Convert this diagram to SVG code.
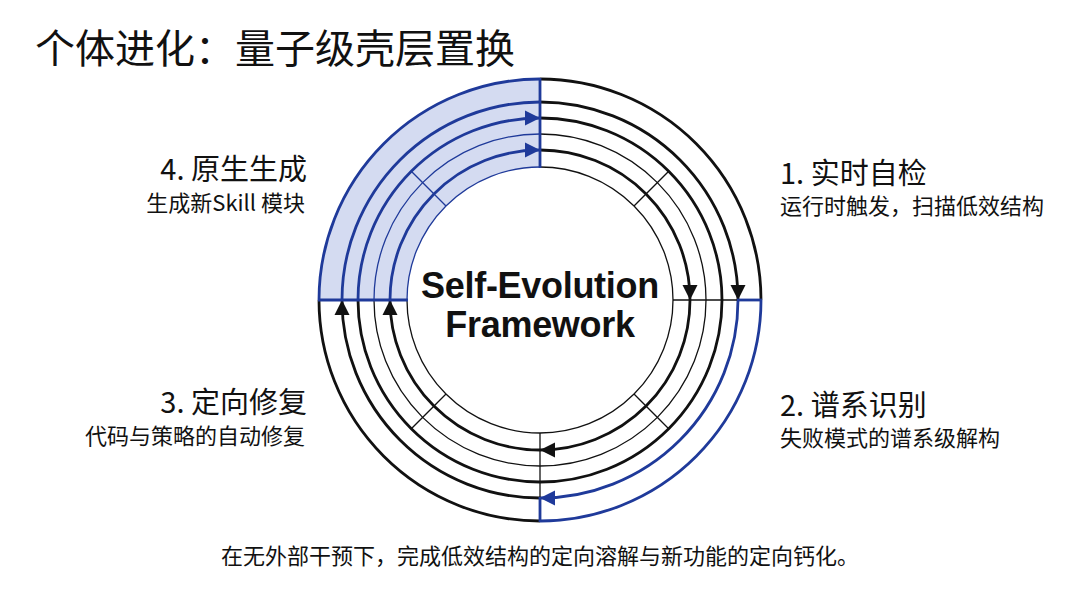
<svg xmlns="http://www.w3.org/2000/svg" width="1080" height="602" viewBox="0 0 1080 602">
<style>
.arc{fill:none}
.t{stroke-width:2.8}
.n{stroke-width:1.3}
.k{stroke:#111}
.b{stroke:#1f3a9a}
.cjk{font-family:"Noto Sans CJK SC","Noto Sans",sans-serif;fill:#111}
.h{font-size:29px}
.s{font-size:22px}
.ctr{font-family:"Liberation Sans",Arial,sans-serif;font-weight:bold;font-size:36px;fill:#111;letter-spacing:-0.3px}
</style>
<defs>
<marker id="ak" markerUnits="userSpaceOnUse" markerWidth="16" markerHeight="16" refX="15" refY="8" orient="auto"><path d="M0,0.5 L15,8 L0,15.5 z" fill="#111"/></marker>
<marker id="ab" markerUnits="userSpaceOnUse" markerWidth="16" markerHeight="16" refX="15" refY="8" orient="auto"><path d="M0,0.5 L15,8 L0,15.5 z" fill="#1f3a9a"/></marker>
</defs>
<rect width="1080" height="602" fill="#fff"/>
<text class="cjk" x="35" y="63" font-size="40">个体进化：量子级壳层置换</text>

<g id="framework">
<path d="M319,300 A221,221 0 0 1 540,79 L540,167 A133,133 0 0 0 407,300 Z" fill="#d4dbf1"/>
<g id="connectors">
<!-- top-left (blue) -->
<path class="arc t b" d="M319,300 A221,221 0 0 1 540,79"/>
<path class="arc t b" d="M342,300 A198,198 0 0 1 540,102"/>
<path class="arc t b" d="M358,300 A182,182 0 0 1 540,118" marker-end="url(#ab)"/>
<path class="arc n b" d="M374,300 A166,166 0 0 1 540,134"/>
<path class="arc t b" d="M390,300 A150,150 0 0 1 540,150" marker-end="url(#ab)"/>
<path class="arc n b" d="M407,300 A133,133 0 0 1 540,167"/>
<!-- top-right -->
<path class="arc t k" d="M540,79 A221,221 0 0 1 761,300"/>
<path class="arc t k" d="M540,102 A198,198 0 0 1 738,300" marker-end="url(#ak)"/>
<path class="arc t k" d="M540,118 A182,182 0 0 1 722,300"/>
<path class="arc n k" d="M540,134 A166,166 0 0 1 706,300"/>
<path class="arc t k" d="M540,150 A150,150 0 0 1 690,300" marker-end="url(#ak)"/>
<path class="arc n k" d="M540,167 A133,133 0 0 1 673,300"/>
<!-- bottom-right -->
<path class="arc t b" d="M761,300 A221,221 0 0 1 540,521"/>
<path class="arc t b" d="M738,300 A198,198 0 0 1 540,498" marker-end="url(#ab)"/>
<path class="arc t k" d="M722,300 A182,182 0 0 1 540,482"/>
<path class="arc n k" d="M706,300 A166,166 0 0 1 540,466"/>
<path class="arc t k" d="M690,300 A150,150 0 0 1 540,450" marker-end="url(#ak)"/>
<path class="arc n k" d="M673,300 A133,133 0 0 1 540,433"/>
<!-- bottom-left -->
<path class="arc t k" d="M540,521 A221,221 0 0 1 319,300"/>
<path class="arc t k" d="M540,498 A198,198 0 0 1 342,300" marker-end="url(#ak)"/>
<path class="arc t k" d="M540,482 A182,182 0 0 1 358,300"/>
<path class="arc n k" d="M540,466 A166,166 0 0 1 374,300"/>
<path class="arc t k" d="M540,450 A150,150 0 0 1 390,300" marker-end="url(#ak)"/>
<path class="arc n k" d="M540,433 A133,133 0 0 1 407,300"/>
<!-- dividers -->
<line class="t b" x1="540" y1="78" x2="540" y2="168"/>
<line class="t b" x1="318" y1="300" x2="408" y2="300"/>
<line class="n k" x1="673" y1="300" x2="738" y2="300"/>
<line class="t b" x1="737" y1="300" x2="762" y2="300"/>
<line class="n k" x1="540" y1="433" x2="540" y2="498"/>
<line class="t b" x1="540" y1="497" x2="540" y2="522"/>
<!-- 45 degree ticks -->
<line class="n b" x1="446" y1="206" x2="411.3" y2="171.3"/>
<line class="n k" x1="634" y1="206" x2="668.7" y2="171.3"/>
<line class="n k" x1="634" y1="394" x2="668.7" y2="428.7"/>
<line class="n k" x1="446" y1="394" x2="411.3" y2="428.7"/>
</g>
<text class="ctr" x="540" y="298" text-anchor="middle">Self-Evolution</text>
<text class="ctr" x="540" y="337" text-anchor="middle">Framework</text>
</g>

<g id="step1">
<text class="cjk h" x="780" y="184">1. 实时自检</text>
<text class="cjk s" x="780" y="214">运行时触发，扫描低效结构</text>
</g>
<g id="step2">
<text class="cjk h" x="780" y="416">2. 谱系识别</text>
<text class="cjk s" x="780" y="446">失败模式的谱系级解构</text>
</g>
<g id="step3">
<text class="cjk h" x="307" y="413" text-anchor="end">3. 定向修复</text>
<text class="cjk s" x="305" y="444" text-anchor="end">代码与策略的自动修复</text>
</g>
<g id="step4">
<text class="cjk h" x="307" y="180" text-anchor="end">4. 原生生成</text>
<text class="cjk s" x="305" y="211" text-anchor="end">生成新Skill 模块</text>
</g>
<text class="cjk" x="540" y="564" font-size="22" text-anchor="middle">在无外部干预下，完成低效结构的定向溶解与新功能的定向钙化。</text>
</svg>
